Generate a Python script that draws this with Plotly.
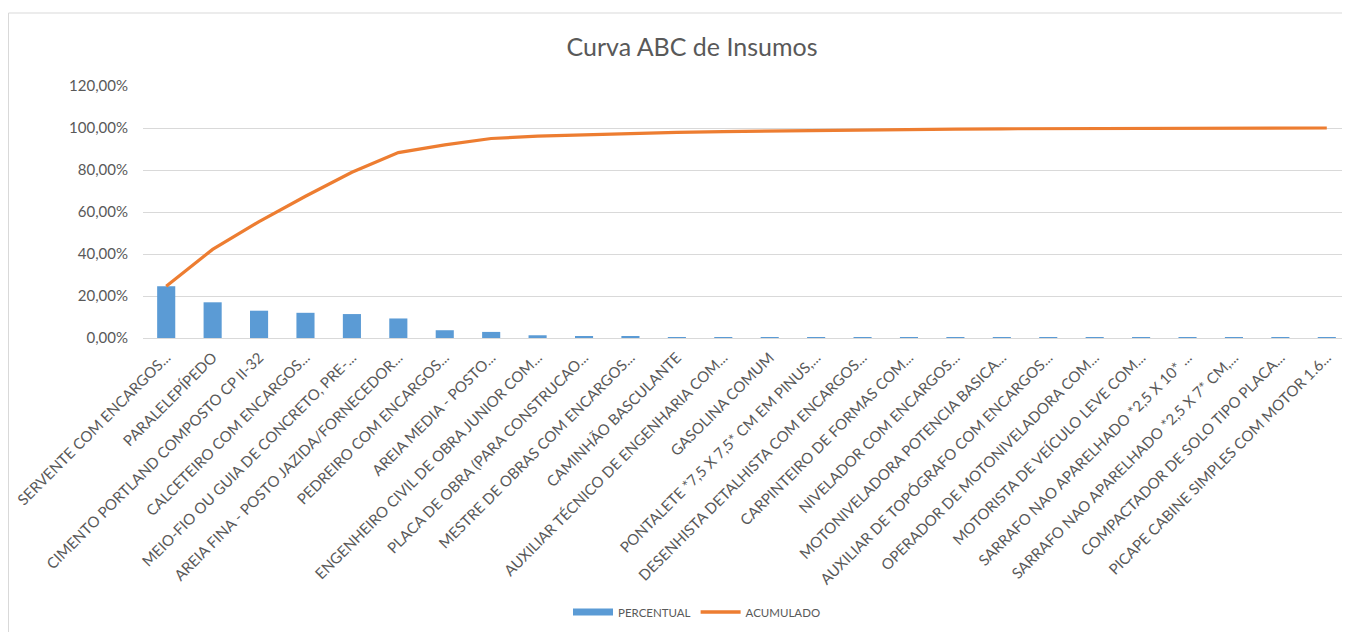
import plotly.graph_objects as go

categories = [
    "SERVENTE COM ENCARGOS...",
    "PARALELEPÍPEDO",
    "CIMENTO PORTLAND COMPOSTO CP II-32",
    "CALCETEIRO COM ENCARGOS...",
    "MEIO-FIO OU GUIA DE CONCRETO, PRE-...",
    "AREIA FINA - POSTO JAZIDA/FORNECEDOR...",
    "PEDREIRO COM ENCARGOS...",
    "AREIA MEDIA - POSTO...",
    "ENGENHEIRO CIVIL DE OBRA JUNIOR COM...",
    "PLACA DE OBRA (PARA CONSTRUCAO...",
    "MESTRE DE OBRAS COM ENCARGOS...",
    "CAMINHÃO BASCULANTE",
    "AUXILIAR TÉCNICO DE ENGENHARIA COM...",
    "GASOLINA COMUM",
    "PONTALETE *7,5 X 7,5* CM EM PINUS,...",
    "DESENHISTA DETALHISTA COM ENCARGOS...",
    "CARPINTEIRO DE FORMAS COM...",
    "NIVELADOR COM ENCARGOS...",
    "MOTONIVELADORA POTENCIA BASICA...",
    "AUXILIAR DE TOPÓGRAFO COM ENCARGOS...",
    "OPERADOR DE MOTONIVELADORA COM...",
    "MOTORISTA DE VEÍCULO LEVE COM...",
    "SARRAFO NAO APARELHADO *2,5 X 10* ...",
    "SARRAFO NAO APARELHADO *2,5 X 7* CM,...",
    "COMPACTADOR DE SOLO TIPO PLACA...",
    "PICAPE CABINE SIMPLES COM MOTOR 1.6...",
]

percentual = [24.7, 17.0, 13.0, 12.0, 11.4, 9.3, 3.7, 2.9, 1.3, 0.7, 0.6, 0.3, 0.25,
              0.1, 0.08, 0.07, 0.06, 0.05, 0.04, 0.03, 0.03, 0.02, 0.02, 0.01, 0.01, 0.01]
acumulado = [24.7, 42.2, 55.4, 67.5, 78.9, 88.3, 92.0, 95.0, 96.1, 96.8, 97.4, 97.9, 98.3,
             98.6, 98.9, 99.15, 99.35, 99.5, 99.62, 99.72, 99.8, 99.87, 99.92, 99.96, 99.99, 100.0]

y_ticks = [0, 20, 40, 60, 80, 100, 120]
y_labels = ["0,00%", "20,00%", "40,00%", "60,00%", "80,00%", "100,00%", "120,00%"]

GREY = "#595959"
FONT = "Lato"
BLUE = "#5B9BD5"
ORANGE = "#ED7D31"

# page renders figure offset by 8px body margin
W, H = 1342, 624
L, T, B = 135, 78, 294
PW = W - L
PH = H - T - B

fig = go.Figure()
fig.add_trace(go.Bar(x=categories, y=percentual, name="PERCENTUAL", showlegend=False,
                     marker=dict(color=BLUE, line=dict(width=0))))
fig.add_trace(go.Scatter(x=categories, y=acumulado, name="ACUMULADO", mode="lines",
                         line=dict(color=ORANGE, width=3.2), showlegend=False))
# legend entries (Excel-style wide swatches)
fig.add_trace(go.Scatter(x=[None], y=[None], name="PERCENTUAL", mode="lines",
                         line=dict(color=BLUE, width=7)))
fig.add_trace(go.Scatter(x=[None], y=[None], name="ACUMULADO", mode="lines",
                         line=dict(color=ORANGE, width=3.5)))

fig.update_layout(
    width=W, height=H,
    margin=dict(l=L, r=0, t=T, b=B),
    paper_bgcolor="white", plot_bgcolor="white",
    font=dict(family=FONT, color=GREY),
    bargap=0.61,
    title=dict(text="Curva ABC de Insumos", x=(692 - 8) / W, xref="container", xanchor="center",
               y=1 - (47 - 8) / H, yref="container", yanchor="middle",
               font=dict(size=25, color=GREY, family=FONT)),
    legend=dict(orientation="h", x=(697 - 8 - L) / PW, xanchor="center", xref="paper",
                y=(338 - 612) / PH, yanchor="middle", font=dict(size=11.5, color=GREY),
                itemwidth=40, tracegroupgap=0),
    xaxis=dict(type="category", tickangle=-45, tickfont=dict(size=15, color=GREY, family=FONT),
               showgrid=False, showline=True, linecolor="#D9D9D9", linewidth=1,
               ticks="", ticklabelstandoff=4, automargin=False),
    yaxis=dict(range=[0, 120], tickvals=y_ticks, ticktext=y_labels,
               tickfont=dict(size=15, color=GREY, family=FONT), gridcolor="#D9D9D9", gridwidth=1,
               zeroline=False, showline=False, ticks="", ticklabelstandoff=14,
               automargin=False),
    shapes=[dict(type="rect", xref="paper", yref="paper",
                 x0=(0.5 - L) / PW, x1=(W + 5 - L) / PW,
                 y0=(338 - 8 - 640) / PH, y1=(338 - 13) / PH,
                 line=dict(color="#D9D9D9", width=1), layer="below")],
)

fig.write_html("out.html")
